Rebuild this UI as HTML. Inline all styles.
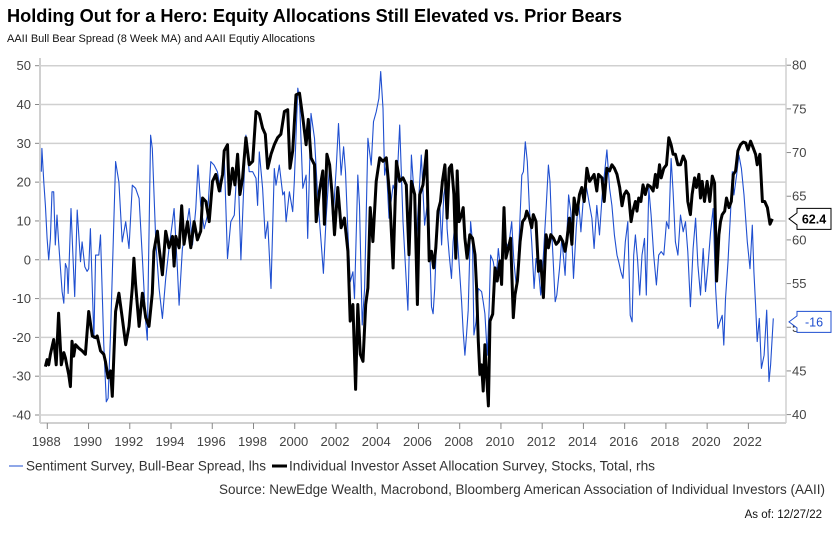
<!DOCTYPE html>
<html><head><meta charset="utf-8">
<style>
html,body{margin:0;padding:0;background:#fff;}
body{width:835px;height:533px;overflow:hidden;font-family:"Liberation Sans",Arial,sans-serif;}
svg text{font-family:"Liberation Sans",Arial,sans-serif;}
</style></head>
<body>
<svg id="chart" width="835" height="533" viewBox="0 0 835 533" xmlns="http://www.w3.org/2000/svg">
  <text x="7" y="22" font-size="18" font-weight="bold" fill="#000" textLength="615" lengthAdjust="spacingAndGlyphs">Holding Out for a Hero: Equity Allocations Still Elevated vs. Prior Bears</text>
  <text x="7" y="42" font-size="11" fill="#111">AAII Bull Bear Spread (8 Week MA) and AAII Equtiy Allocations</text>
  <g id="grid"></g>
  <g id="axes"></g>
  <g id="series"></g>
  <g id="labels"></g>
  <g>
    <line x1="9" y1="466" x2="23" y2="466" stroke="#1f4fd0" stroke-width="1"/>
    <text x="26" y="470.5" font-size="13.5" fill="#333" textLength="240" lengthAdjust="spacingAndGlyphs">Sentiment Survey, Bull-Bear Spread, lhs</text>
    <line x1="272" y1="466" x2="287" y2="466" stroke="#000" stroke-width="3"/>
    <text x="289" y="470.5" font-size="13.5" fill="#333" textLength="366" lengthAdjust="spacingAndGlyphs">Individual Investor Asset Allocation Survey, Stocks, Total, rhs</text>
  </g>
  <text x="825" y="494" text-anchor="end" font-size="13.5" fill="#333" textLength="606" lengthAdjust="spacingAndGlyphs">Source: NewEdge Wealth, Macrobond, Bloomberg American Association of Individual Investors (AAII)</text>
  <text x="822" y="518" text-anchor="end" font-size="11.5" fill="#111">As of: 12/27/22</text>
</svg>
<script>
const leftTicks = [50,40,30,20,10,0,-10,-20,-30,-40];
const rightTicks = [80,75,70,65,60,55,50,45,40];
const yearTicks = [1988,1990,1992,1994,1996,1998,2000,2002,2004,2006,2008,2010,2012,2014,2016,2018,2020,2022];

const spreadYears = [1987.71,1987.74,1987.83,1987.91,1987.99,1988.07,1988.15,1988.23,1988.31,1988.39,1988.47,1988.55,1988.72,1988.80,1988.88,1988.96,1989.01,1989.15,1989.24,1989.33,1989.45,1989.61,1989.69,1989.82,1989.93,1990.01,1990.09,1990.26,1990.34,1990.50,1990.58,1990.74,1990.86,1990.95,1991.07,1991.31,1991.47,1991.63,1991.80,1991.96,1992.12,1992.28,1992.45,1992.61,1992.77,1992.85,1993.01,1993.09,1993.26,1993.42,1993.58,1993.74,1993.90,1994.07,1994.15,1994.31,1994.39,1994.55,1994.71,1994.88,1995.04,1995.20,1995.31,1995.44,1995.61,1995.77,1995.93,1996.09,1996.25,1996.42,1996.58,1996.74,1996.90,1997.07,
1997.23,1997.39,1997.55,1997.63,1997.79,1997.96,1998.12,1998.20,1998.28,1998.44,1998.57,1998.69,1998.85,1999.01,1999.09,1999.25,1999.42,1999.50,1999.58,1999.74,1999.90,1999.98,2000.15,2000.23,2000.39,2000.55,2000.63,2000.79,2000.96,2001.12,2001.28,2001.39,2001.52,2001.69,2001.85,2002.01,2002.12,2002.25,2002.37,2002.46,2002.58,2002.69,2002.82,2002.90,2003.06,2003.14,2003.27,2003.39,2003.55,2003.71,2003.82,2003.95,2004.08,2004.17,2004.28,2004.36,2004.44,2004.57,2004.77,2004.93,2005.09,2005.25,2005.41,2005.49,2005.66,2005.77,2005.90,2006.14,2006.30,
2006.42,2006.52,2006.63,2006.71,2006.79,2006.90,2007.03,2007.12,2007.23,2007.33,2007.39,2007.49,2007.60,2007.68,2007.81,2007.93,2008.09,2008.17,2008.25,2008.33,2008.41,2008.53,2008.62,2008.69,2008.79,2008.90,2009.06,2009.14,2009.22,2009.34,2009.43,2009.50,2009.63,2009.76,2009.87,2009.98,2010.11,2010.24,2010.36,2010.52,2010.63,2010.76,2010.89,2011.01,2011.09,2011.18,2011.28,2011.38,2011.49,2011.61,2011.70,2011.82,2011.93,2012.06,2012.19,2012.30,2012.38,2012.47,2012.63,2012.71,2012.84,2012.95,2013.11,2013.28,2013.39,2013.52,2013.65,2013.76,2013.88,2014.01,2014.13,2014.30,2014.41,2014.52,2014.65,2014.78,2014.91,2015.03,2015.14,2015.27,2015.38,2015.50,2015.63,
2015.71,2015.82,2015.92,2016.03,2016.15,2016.27,2016.36,2016.44,2016.52,2016.63,2016.73,2016.84,2016.96,2017.05,2017.17,2017.28,2017.41,2017.54,2017.65,2017.77,2017.90,2018.03,2018.14,2018.25,2018.35,2018.46,2018.58,2018.71,2018.84,2018.95,2019.06,2019.19,2019.32,2019.44,2019.55,2019.68,2019.81,2019.92,2020.04,2020.17,2020.29,2020.41,2020.52,2020.62,2020.73,2020.81,2020.89,2021.01,2021.14,2021.22,2021.30,2021.43,2021.54,2021.66,2021.79,2021.95,2022.08,2022.19,2022.27,2022.35,2022.43,2022.53,2022.63,2022.76,2022.89,2023.00,2023.08,2023.21];
const spreadValues = [22.7,28.7,20,14,5.5,0,5.5,17.5,17.5,3.8,11.5,4.6,-8.2,-11.2,-1,-2.3,-8.7,13.2,1.2,-9.5,12.8,-0.5,4.6,-1.8,-3,-2.3,8,-20.3,1.2,1.2,6.4,-22,-36.6,-35.7,-18.6,25.3,20,4.6,9.8,2.9,19.2,18.4,15.8,0.3,-16,-20.7,32.1,28.7,4.6,-7.4,-15.1,-4.8,2.9,9.8,13.2,-2.3,-11.7,2.9,7.2,13.2,3.8,13.2,24.4,14,8,11.5,25.3,24.4,22.7,17.5,27,0.3,9.8,11.5,
27,0,21.8,32.1,22.7,22.7,21,14,27.8,18.4,5.5,9.8,-7.4,23.5,19.2,24.4,16.7,17.5,9.8,17.5,12.4,20.1,44.2,41.6,18.4,21.8,5.5,37.7,31.3,15.8,4.6,-3.5,10.7,24.4,9.8,23.5,35.1,21.8,29.1,22.7,7.2,-5.7,-3.1,-10,21.8,14,-16.8,-7.4,31.3,24.4,35.6,38.1,41.6,48.5,39,21.8,24.4,10.7,19.2,16.7,34.7,9.8,-5.7,-13,27,18.4,5.5,27,8.9,
14,8,-12.1,-13.9,-7.4,8,14.9,3.8,16.7,20.1,8,1.2,-4.8,4.6,11.5,2.1,-10.8,-18.6,-24.6,-19.4,-13,9.8,4.6,-19.4,-16,-7.4,-8.2,-10.8,-13.9,-24.6,-12.1,1.2,-0.5,-5.7,2.9,-2.3,1.2,4.6,2.9,9.8,-0.5,-7.4,6.4,21.8,22.7,30.4,25.3,13.2,4.6,-7.4,0.3,-2.3,-9.1,1.2,13.2,24.4,20.1,6.4,-10.8,-9.1,-2.3,5.5,-4,16.7,12.4,-4.8,8,15.8,7.2,16.7,19.2,14,10.7,2.9,14,6.4,16.7,22.7,28.3,18.4,14,6.4,1.2,
-0.5,-3.1,-4.8,4.6,9.8,-14.3,-16,1.2,6.4,-0.5,-9.1,1.2,5.5,-9.1,18.4,11.5,1.2,-6.5,1.2,2.1,1.2,9.8,8,26.1,17.5,4.6,1.2,11.5,7.2,9.8,2.1,-12.1,2.9,10.7,-1.4,-9.1,2.9,-8.2,-1.4,7.2,13.2,-7.4,-17.7,-16,-14.3,-22,-10,-0.5,12.4,22.7,16.7,21.8,27,23.5,16.7,4.6,-2.3,8.9,-3.1,-11.7,-21.1,-15.1,-28,-24.6,-13,-31.4,-27.1,-15.1];

const allocYears = [1987.91,1987.99,1988.07,1988.15,1988.31,1988.43,1988.55,1988.68,1988.80,1988.88,1988.96,1989.04,1989.12,1989.20,1989.28,1989.37,1989.53,1989.69,1989.85,1990.01,1990.18,1990.34,1990.42,1990.58,1990.74,1990.82,1990.95,1991.07,1991.15,1991.23,1991.31,1991.47,1991.63,1991.80,1991.96,1992.12,1992.20,1992.28,1992.45,1992.61,1992.77,1992.93,1993.09,1993.17,1993.34,1993.42,1993.58,1993.74,1993.90,1994.07,1994.15,1994.23,1994.39,1994.52,1994.63,1994.80,1994.96,1995.12,1995.28,1995.44,1995.53,1995.69,1995.85,1996.01,1996.17,1996.34,1996.50,1996.58,1996.74,1996.82,1996.98,1997.10,
1997.23,1997.34,1997.47,1997.63,1997.79,1997.96,1998.12,1998.28,1998.44,1998.57,1998.69,1998.85,1999.01,1999.17,1999.33,1999.50,1999.66,1999.77,1999.90,2000.06,2000.23,2000.39,2000.55,2000.66,2000.79,2000.96,2001.04,2001.20,2001.36,2001.44,2001.56,2001.69,2001.81,2001.93,2002.09,2002.25,2002.41,2002.58,2002.69,2002.82,2002.95,2003.06,2003.18,2003.31,2003.44,2003.55,2003.66,2003.79,2003.95,2004.12,2004.28,2004.44,2004.60,2004.77,2004.93,2005.09,2005.25,2005.41,2005.54,2005.66,2005.82,2005.95,2006.06,2006.22,2006.39,
2006.52,2006.63,2006.74,2006.84,2006.95,2007.07,2007.16,2007.28,2007.39,2007.49,2007.60,2007.72,2007.81,2007.88,2007.97,2008.09,2008.17,2008.25,2008.36,2008.49,2008.62,2008.74,2008.82,2008.90,2008.98,2009.06,2009.14,2009.22,2009.30,2009.39,2009.47,2009.60,2009.71,2009.82,2009.95,2010.03,2010.15,2010.24,2010.36,2010.47,2010.60,2010.68,2010.80,2010.93,2011.05,2011.17,2011.25,2011.38,2011.49,2011.57,2011.70,2011.82,2011.93,2012.06,2012.19,2012.30,2012.42,2012.55,2012.68,2012.79,2012.87,2013.00,2013.11,2013.19,2013.32,2013.44,2013.55,2013.68,2013.81,2013.92,2014.04,2014.17,2014.30,2014.41,2014.52,2014.65,2014.73,2014.90,2015.01,2015.14,2015.27,2015.38,2015.50,2015.63,
2015.76,2015.87,2015.98,2016.08,2016.19,2016.31,2016.40,2016.52,2016.60,2016.68,2016.79,2016.89,2017.00,2017.12,2017.25,2017.38,2017.49,2017.57,2017.69,2017.77,2017.90,2018.03,2018.14,2018.25,2018.35,2018.46,2018.58,2018.71,2018.84,2018.95,2019.06,2019.19,2019.27,2019.39,2019.48,2019.60,2019.68,2019.76,2019.87,2020.00,2020.13,2020.25,2020.36,2020.46,2020.57,2020.65,2020.73,2020.85,2020.94,2021.06,2021.17,2021.27,2021.38,2021.49,2021.62,2021.75,2021.87,2021.98,2022.11,2022.24,2022.35,2022.43,2022.56,2022.68,2022.79,2022.92,2023.05,2023.16];
const allocValues = [45.5,46.3,45.7,46.9,48.6,45.7,51.6,45.7,47.1,46.5,45.5,44.6,43.2,48.4,46.7,48,47.6,47.3,46.9,51.8,49,48.8,49,47.3,46.9,46.1,44.2,45,42.1,46.9,51.8,53.9,51.1,48,50.1,54.5,57.9,54.9,50.1,53.9,51.1,50.1,53.9,58.7,61,59.1,56,61,59.1,60.4,57,60.4,59.1,63.9,59.5,62.1,59.1,62.1,60,61,64.8,64.4,62.1,66.7,67.5,65.6,67.5,70.2,70.9,65.2,68.2,66.3,
69.8,65.2,67.1,71.7,68.6,69,74.7,74.4,72.8,72.1,68.2,69.8,70.9,71.7,72.1,74.7,74.9,68.2,70.2,76.6,76.8,74,70.9,73.8,69.4,68.6,62.1,65.6,67.9,61.8,69.8,68.6,65.2,60.6,66,61.4,62.5,58.7,50.7,52.6,42.9,52.6,46.9,46.1,52.6,54.5,63.7,59.8,66.7,69.4,69,69.4,65.2,56.8,69,66.7,67.1,66.3,58.3,66.7,65.2,52.6,65.2,66.3,70.2,
57.6,58.7,56.8,59.1,63.3,64.4,66.7,68.6,62.5,68.2,68.6,65.2,57.9,67.9,62.1,62.9,63.7,60.2,57.9,60.6,60.2,58.3,54.5,48.4,44.6,45.7,42.7,48,44.6,41,50.7,51.5,56.8,55.3,57.6,54.9,63.7,57.9,59.1,60.2,51.1,53.7,55.3,59.8,62.1,62.5,63.3,62.5,61.4,62.9,62.1,56.4,57.6,53.4,60.6,59.1,60.6,60.2,59.5,59.8,60.4,59.8,58.7,59.8,62.5,59.5,64.8,62.9,65.2,66,64.4,68.2,66.7,67.1,67.5,65.6,67.5,67.1,64.4,68.2,67.9,68.6,68.2,67.5,
66,63.9,65.2,65.6,65.2,62.1,63.3,64.4,63.3,64.8,64.4,66.3,65.2,66.3,66.1,65.6,67.5,66,68.6,67.1,68.2,68.6,71.7,70.9,69.8,69.8,68.6,68.6,69.6,69,64.4,62.9,65.2,67.1,66,67.5,64.8,66.7,64.4,66.7,64.4,67.3,66.5,55.3,60.6,62.1,62.9,63.3,64.8,63.7,64.4,67.5,67.9,70.2,70.9,71.2,71.1,70.3,71.3,70.5,69.8,68.6,69.8,64.4,64.4,63.7,61.8,62.4];

const lastAllocLabel = "62.4";
const lastSpreadLabel = "-16";

const NS = "http://www.w3.org/2000/svg";
const plotL = 40, plotR = 786, plotB = 423;
function xScale(yr){ return 47.3 + (yr - 1988) * 20.62; }
function yLeft(v){ return 65.7 + (50 - v) * (415 - 65.7) / 90; }
function yRight(v){ return 65.2 + (80 - v) * (414.6 - 65.2) / 40; }
function mk(tag, attrs, parent){
  const e = document.createElementNS(NS, tag);
  for (const k in attrs) e.setAttribute(k, attrs[k]);
  parent.appendChild(e);
  return e;
}
const grid = document.getElementById('grid');
const axes = document.getElementById('axes');
const series = document.getElementById('series');
const labels = document.getElementById('labels');

leftTicks.forEach(v => {
  const y = yLeft(v);
  const g = mk('line', {x1: plotL, x2: plotR, y1: y, y2: y, stroke: '#d0d0d0', 'stroke-width': 1.5}, grid);
  
  
  const t = mk('line', {x1: plotL - 5, x2: plotL, y1: y, y2: y, stroke: '#888', 'stroke-width': 1}, axes);
  
  
  const tx = mk('text', {x: plotL - 9, y: y + 4.5, 'text-anchor': 'end', 'font-size': 13, fill: '#444'}, axes);
  tx.textContent = v;
  
  
});
rightTicks.forEach(v => {
  const y = yRight(v);
  const t = mk('line', {x1: plotR, x2: plotR + 5, y1: y, y2: y, stroke: '#888', 'stroke-width': 1}, axes);
  
  
  const tx = mk('text', {x: plotR + 6, y: y + 4.5, 'font-size': 13, fill: '#444'}, axes);
  tx.textContent = v;
  
  
});
const la = mk('line', {x1: plotL, x2: plotL, y1: 58, y2: plotB, stroke: '#d0d0d0', 'stroke-width': 2}, axes);


const ra = mk('line', {x1: plotR, x2: plotR, y1: 58, y2: plotB, stroke: '#d0d0d0', 'stroke-width': 1.5}, axes);


const ba = mk('line', {x1: plotL, x2: plotR, y1: plotB, y2: plotB, stroke: '#d0d0d0', 'stroke-width': 2}, axes);


yearTicks.forEach(yr => {
  const x = xScale(yr);
  const t = mk('line', {x1: x, x2: x, y1: plotB, y2: plotB + 6, stroke: '#888', 'stroke-width': 1}, axes);
  
  
  const tx = mk('text', {x: x - 1, y: 446, 'text-anchor': 'middle', 'font-size': 13, fill: '#444'}, axes);
  tx.textContent = yr;
  
  
});

function pathOf(xs, vs, yf){
  return xs.map((x, i) => (i ? 'L' : 'M') + xScale(x).toFixed(1) + ',' + yf(vs[i]).toFixed(1)).join('');
}
const sp = mk('path', {d: pathOf(spreadYears, spreadValues, yLeft), fill: 'none', stroke: '#1f4fd0', 'stroke-width': 1.1, 'stroke-linejoin': 'round'}, series);


const al = mk('path', {d: pathOf(allocYears, allocValues, yRight), fill: 'none', stroke: '#000', 'stroke-width': 3, 'stroke-linejoin': 'round'}, series);



function endLabel(text, y, color, bold, name){
  const x0 = 789, w = 42, h = 21;
  const p = mk('path', {d: `M${x0},${y} L${x0+8},${y-6} L${x0+8},${y-h/2} L${x0+w},${y-h/2} L${x0+w},${y+h/2} L${x0+8},${y+h/2} L${x0+8},${y+6} Z`, fill: '#fff', stroke: color, 'stroke-width': 1}, labels);
  
  
  const t = mk('text', {x: x0 + 25, y: y + 4.5, 'text-anchor': 'middle', 'font-size': 12.5, fill: color, 'font-weight': bold ? 'bold' : 'normal'}, labels);
  t.textContent = text;
  
  
}
endLabel(lastAllocLabel, yRight(allocValues[allocValues.length - 1]), '#000', true, 'allocation-end-label');
endLabel(lastSpreadLabel, yLeft(-16), '#1f4fd0', false, 'spread-end-label');
</script>
</body></html>
